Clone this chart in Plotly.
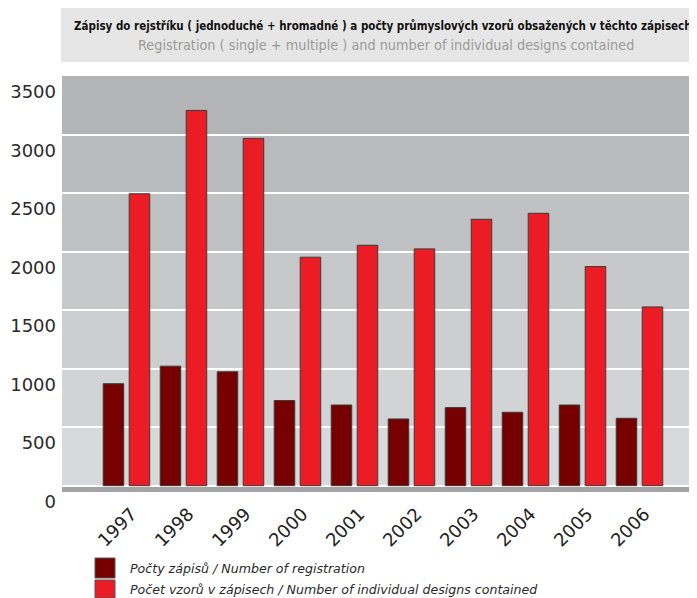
import plotly.graph_objects as go

years = ["1997", "1998", "1999", "2000", "2001", "2002", "2003", "2004", "2005", "2006"]
registrations = [871, 1021, 973, 727, 689, 570, 667, 627, 689, 576]
designs = [2494, 3206, 2967, 1952, 2054, 2023, 2276, 2327, 1872, 1527]
y_ticks = [0, 500, 1000, 1500, 2000, 2500, 3000, 3500]

name_reg = "Počty zápisů / Number of registration"
name_des = "Počet vzorů v zápisech / Number of individual designs contained"
title_cz = "Zápisy do rejstříku ( jednoduché + hromadné ) a počty průmyslových vzorů obsažených v těchto zápisech"
title_en = "Registration ( single + multiple ) and number of individual designs contained"

COL_REG = "#760000"
COL_DES = "#ec1c24"

# page offset (browser body margin)
OFF = 8
FW, FH = 697 - OFF, 598 - OFF
# plot area in window pixels: x 62..697, y 76..492
PL, PR, PT, PB = 62, 697, 76, 492
W, H = PR - PL, PB - PT
def px(x):
    return (x - PL) / W
def py(y):
    return (PB - y) / H

fig = go.Figure()
fig.add_trace(go.Bar(x=years, y=registrations, name=name_reg,
                     marker=dict(color=COL_REG, line=dict(color="#3a3a3a", width=1))))
fig.add_trace(go.Bar(x=years, y=designs, name=name_des,
                     marker=dict(color=COL_DES, line=dict(color="#3a3a3a", width=1))))

band_cols = ["#d8d9da", "#d2d3d4", "#cdcecf", "#c7c8ca", "#c0c1c3", "#b9babd", "#b2b4b6"]
shapes = []
for i, c in enumerate(band_cols):
    shapes.append(dict(type="rect", xref="paper", yref="y", x0=0, x1=1,
                       y0=y_ticks[i], y1=y_ticks[i + 1], fillcolor=c,
                       line=dict(width=0), layer="below"))
# floor band
shapes.append(dict(type="rect", xref="paper", yref="y", x0=0, x1=1, y0=-54, y1=0,
                   fillcolor="#a3a3a3", line=dict(width=0), layer="below"))
# title box
shapes.append(dict(type="rect", xref="paper", yref="paper", x0=px(61), x1=1.0,
                   y0=py(62), y1=py(8), fillcolor="#e6e6e6", line=dict(width=0)))
# legend squares
shapes.append(dict(type="rect", xref="paper", yref="paper", x0=px(95), x1=px(115),
                   y0=py(578), y1=py(558), fillcolor=COL_REG, line=dict(color="#555555", width=1)))
shapes.append(dict(type="rect", xref="paper", yref="paper", x0=px(95), x1=px(115),
                   y0=py(598), y1=py(580), fillcolor=COL_DES, line=dict(color="#555555", width=1)))

annotations = [
    dict(text="<b>" + title_cz + "</b>", xref="paper", yref="paper", x=px(383), y=py(26),
         showarrow=False, xanchor="center", yanchor="middle",
         font=dict(family="DejaVu Sans Condensed, Roboto", size=11.5, color="#111111")),
    dict(text=title_en, xref="paper", yref="paper", x=px(386), y=py(45),
         showarrow=False, xanchor="center", yanchor="middle",
         font=dict(family="DejaVu Sans Condensed, Roboto", size=14.3, color="#9a9a9a")),
    dict(text="<i>" + name_reg + "</i>", xref="paper", yref="paper", x=px(128), y=py(568),
         showarrow=False, xanchor="left", yanchor="middle",
         font=dict(family="DejaVu Sans, Roboto", size=12.6, color="#2a2a2a")),
    dict(text="<i>" + name_des + "</i>", xref="paper", yref="paper", x=px(128), y=py(589),
         showarrow=False, xanchor="left", yanchor="middle",
         font=dict(family="DejaVu Sans, Roboto", size=12.6, color="#2a2a2a")),
]

fig.update_layout(
    width=FW, height=FH,
    margin=dict(l=PL - OFF, r=697 - PR, t=PT - OFF, b=598 - PB, pad=0),
    paper_bgcolor="white", plot_bgcolor="rgba(0,0,0,0)",
    barmode="group", bargap=0.088, bargroupgap=0.21,
    showlegend=False,
    shapes=shapes, annotations=annotations,
    xaxis=dict(type="category", range=[-1.131, 10.009], tickangle=-45,
               showgrid=False, zeroline=False, showline=False, ticks="",
               ticklabelshift=5, ticklabelstandoff=7,
               tickfont=dict(family="DejaVu Sans", size=18, color="#222222")),
    yaxis=dict(range=[-54, 3500], tickvals=y_ticks, ticktext=[str(v) for v in y_ticks],
               showgrid=True, gridcolor="white", gridwidth=1.5, zeroline=False,
               showline=False, ticks="", ticklabelshift=16, ticklabelstandoff=5,
               tickfont=dict(family="DejaVu Sans", size=18, color="#2a2a2a")),
)

fig.write_html("out.html")
